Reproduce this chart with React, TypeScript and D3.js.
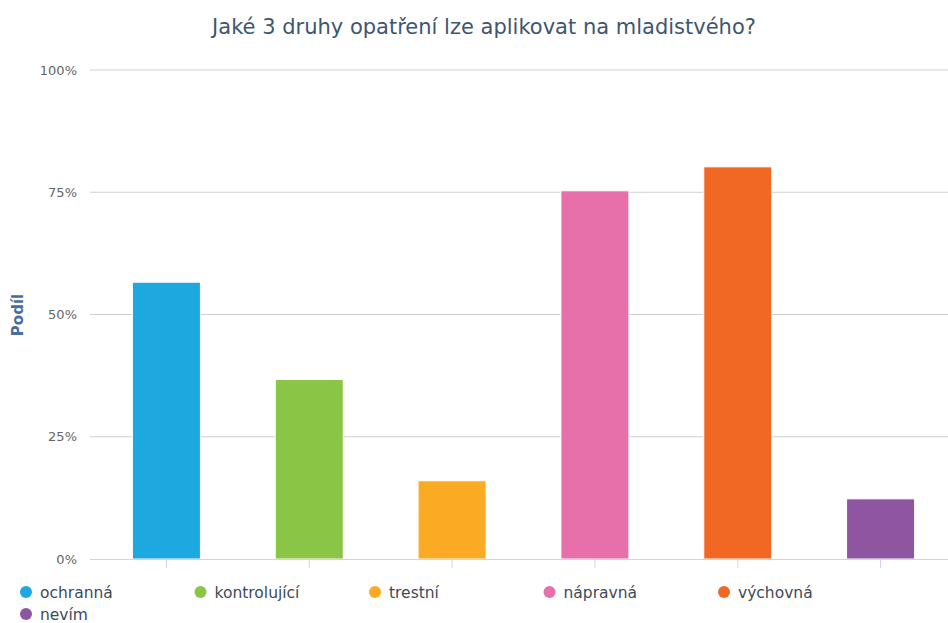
import React from "react";
import * as d3 from "d3";

const categories = ["ochranná", "kontrolující", "trestní", "nápravná", "výchovná", "nevím"];
const values = [56.6, 36.7, 16.0, 75.3, 80.2, 12.3];
const colors = ["#1ea8e0", "#8bc546", "#fbaa24", "#e76faa", "#f16825", "#8e55a0"];
const yTicks = [0, 25, 50, 75, 100];
const title = "Jaké 3 druhy opatření lze aplikovat na mladistvého?";
const yTitle = "Podíl";

const W = 948;
const H = 623;

export default function App() {
  const xc = d3.scalePoint<string>().domain(categories).range([95, 952]).padding(0.5);
  const y = d3.scaleLinear().domain([0, 100]).range([559, 70]);
  const bw = 68;
  return (
    <svg width={W} height={H} style={{ position: "absolute", left: 0, top: 0, fontFamily: "'DejaVu Sans', sans-serif" }}>
      <rect width={W} height={H} fill="#fff" />
      <text x={484} y={34} textAnchor="middle" fontSize={21} fill="#3e5670">{title}</text>
      {yTicks.map((t) => (
        <g key={t}>
          {t !== 0 && <line x1={90} x2={948} y1={y(t)} y2={y(t)} stroke="#cfcfcf" strokeWidth={1} />}
          <text x={77} y={y(t) + 4.5} textAnchor="end" fontSize={13} fill="#666">{t}%</text>
        </g>
      ))}
      <text transform={`translate(23,315) rotate(-90)`} textAnchor="middle" fontSize={15} fontWeight="bold" fill="#4a6e9a">{yTitle}</text>
      {categories.map((c, i) => (
        <rect key={c} x={xc(c)! - bw / 2} y={y(values[i])} width={bw} height={y(0) - y(values[i])} fill={colors[i]} stroke="#fff" strokeWidth={1} />
      ))}
      <line x1={90} x2={948} y1={y(0) + 0.5} y2={y(0) + 0.5} stroke="#ccd6eb" strokeWidth={1} />
      {categories.map((c) => (
        <line key={c} x1={xc(c)!} x2={xc(c)!} y1={y(0)} y2={y(0) + 9} stroke="#ccd6eb" strokeWidth={1} />
      ))}
      {categories.map((c, i) => {
        const col = i % 5;
        const row = Math.floor(i / 5);
        const lx = 26 + col * 174.5;
        const ly = 592 + row * 22;
        return (
          <g key={c}>
            <circle cx={lx} cy={ly} r={6} fill={colors[i]} />
            <text x={lx + 14} y={ly + 5.5} fontSize={15.5} fill="#3e4a5a">{c}</text>
          </g>
        );
      })}
    </svg>
  );
}
